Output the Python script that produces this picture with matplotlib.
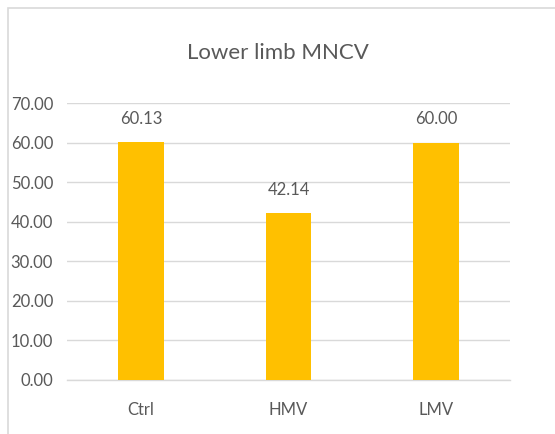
import matplotlib
matplotlib.use("Agg")
import matplotlib.pyplot as plt
from matplotlib.patches import Rectangle

# Data
categories = ["Ctrl", "HMV", "LMV"]
values = [60.13, 42.14, 60.00]
yticks = [0, 10, 20, 30, 40, 50, 60, 70]

plt.rcParams["font.family"] = ["Lato", "DejaVu Sans"]
text_color = "#595959"

fig = plt.figure(figsize=(5.55, 4.34), dpi=100)
ax = fig.add_axes([67 / 555, 1 - 380 / 434, 443 / 555, 277 / 434])

# chart border
fig.patches.append(Rectangle((8 / 555, -0.2), 1.2, 1.2 - 8 / 434,
                             transform=fig.transFigure, fill=False,
                             edgecolor="#d9d9d9", linewidth=1.2))

x = range(len(categories))
ax.bar(x, values, width=0.31, color="#FFC000", zorder=3)

for xi, v in zip(x, values):
    ax.annotate(f"{v:.2f}", (xi, v), xytext=(0, 11), textcoords="offset points",
                ha="center", va="bottom", fontsize=12, color=text_color)

ax.set_xlim(-0.5, 2.5)
ax.set_ylim(0, 70)
ax.set_yticks(yticks)
ax.set_yticklabels([f"{t:.2f}" for t in yticks])
ax.set_xticks(list(x))
ax.set_xticklabels(categories)
ax.tick_params(axis="both", length=0, labelsize=12, colors=text_color)
ax.tick_params(axis="y", pad=10)
ax.tick_params(axis="x", pad=16)
ax.grid(axis="y", color="#d9d9d9", linewidth=1, zorder=0)
ax.axhline(0, color="#d9d9d9", linewidth=1, zorder=1, clip_on=False)
for s in ax.spines.values():
    s.set_visible(False)

fig.text(0.5, 1 - 53 / 434, "Lower limb MNCV", ha="center", va="center",
         fontsize=16, color=text_color)

fig.savefig("out.png", dpi=100)
